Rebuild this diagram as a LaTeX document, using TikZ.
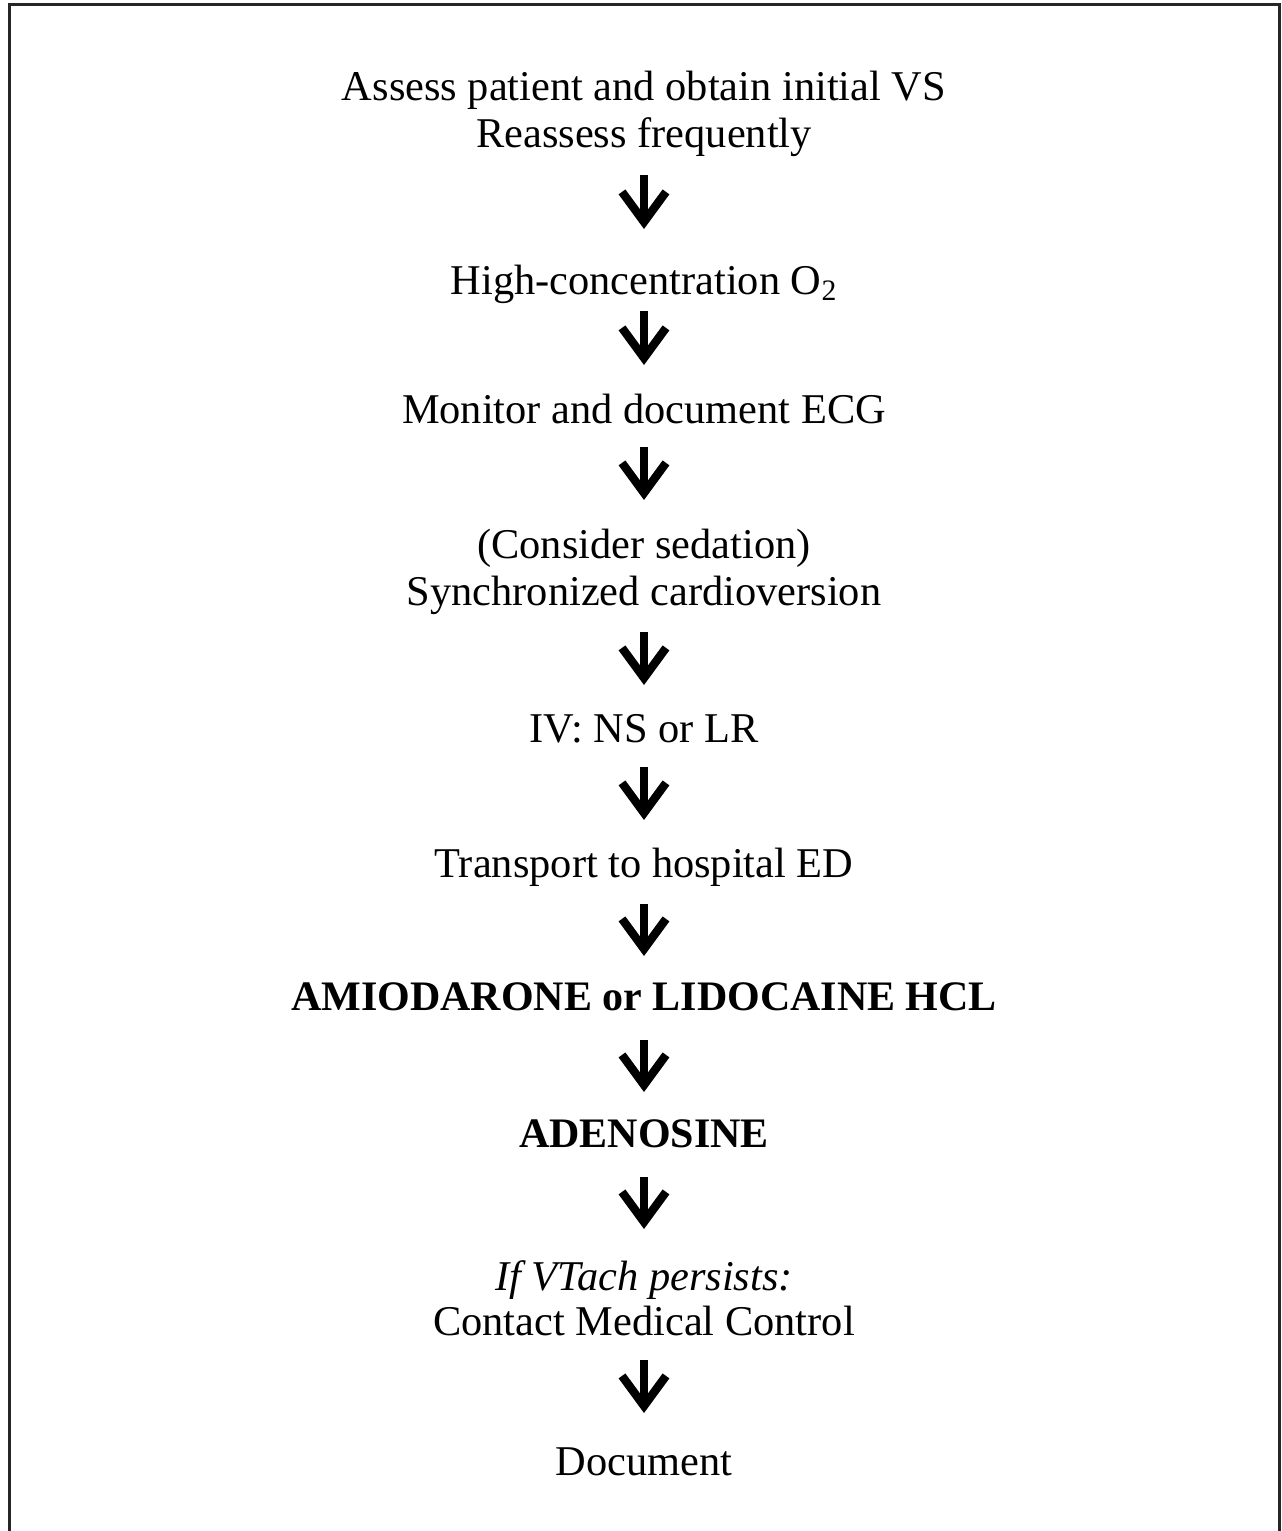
\documentclass[tikz,border=0pt]{standalone}
\usepackage{fontspec}
\setmainfont{Liberation Serif}
\usetikzlibrary{arrows.meta}
\begin{document}
\begin{tikzpicture}[x=0.5pt,y=-0.5pt,
  textline/.style={anchor=base, inner sep=0pt, font=\fontsize{21.2}{25}\selectfont},
  drugline/.style={anchor=base, inner sep=0pt, font=\fontsize{21}{25}\selectfont\bfseries},
  flow/.style={line width=4.2pt, -{Straight Barb[length=15pt, width=22pt]}}
]
\useasboundingbox (0,0) rectangle (1281,1531);
% frame: open at the bottom edge
\draw[line width=1.5pt, black!85] (9,1600) -- (9,4) -- (1279.5,4) -- (1279.5,1600);

% steps, centred on x = 644 (y values are baselines)
\node[textline] (s1a) at (644,100)  {Assess patient and obtain initial VS};
\node[textline] (s1b) at (644,147)  {Reassess frequently};
\node[textline] (s2)  at (644,294)  {High-concentration O\textsubscript{2}};
\node[textline] (s3)  at (644,423)  {Monitor and document ECG};
\node[textline] (s4a) at (644,558)  {(Consider sedation)};
\node[textline] (s4b) at (644,605)  {Synchronized cardioversion};
\node[textline] (s5)  at (644,742)  {IV: NS or LR};
\node[textline] (s6)  at (644,877)  {Transport to hospital ED};
\node[drugline] (s7)  at (644,1010) {AMIODARONE or LIDOCAINE HCL};
\node[drugline] (s8)  at (644,1147) {ADENOSINE};
\node[textline] (s9a) at (644,1290) {\itshape If VTach persists:};
\node[textline] (s9b) at (644,1335) {Contact Medical Control};
\node[textline] (s10) at (644,1475) {Document};

% arrow ends between consecutive steps
\coordinate (a1s) at (644,175);  \coordinate (a1e) at (644,229);
\coordinate (a2s) at (644,311);  \coordinate (a2e) at (644,365);
\coordinate (a3s) at (644,447);  \coordinate (a3e) at (644,500);
\coordinate (a4s) at (644,632);  \coordinate (a4e) at (644,685);
\coordinate (a5s) at (644,767);  \coordinate (a5e) at (644,820);
\coordinate (a6s) at (644,904);  \coordinate (a6e) at (644,956);
\coordinate (a7s) at (644,1040); \coordinate (a7e) at (644,1092);
\coordinate (a8s) at (644,1177); \coordinate (a8e) at (644,1229);
\coordinate (a9s) at (644,1360); \coordinate (a9e) at (644,1413);

\foreach \i in {1,...,9} \draw[flow] (a\i s) -- (a\i e);
\end{tikzpicture}
\end{document}
